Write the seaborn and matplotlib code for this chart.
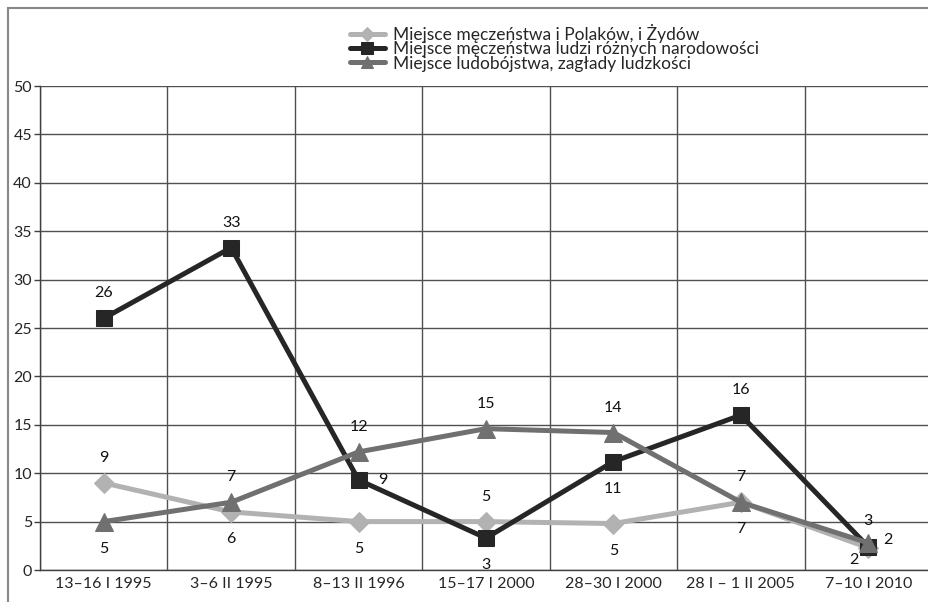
import numpy as np
import pandas as pd
import matplotlib
matplotlib.use('Agg')
import matplotlib.pyplot as plt
import seaborn as sns
from matplotlib.patches import Rectangle

categories = ['13–16 I 1995', '3–6 II 1995', '8–13 II 1996', '15–17 I 2000',
              '28–30 I 2000', '28 I – 1 II 2005', '7–10 I 2010']
series_names = ['Miejsce męczeństwa i Polaków, i Żydów',
                'Miejsce męczeństwa ludzi różnych narodowości',
                'Miejsce ludobójstwa, zagłady ludzkości']
polacy_zydzi = [9, 6, 5, 5, 4.8, 7, 2.3]
rozne_narodowosci = [26, 33.3, 9.3, 3.3, 11.2, 16, 2.4]
ludobojstwo = [5, 7, 12.2, 14.6, 14.2, 7, 2.8]
y_ticks = [0, 5, 10, 15, 20, 25, 30, 35, 40, 45, 50]

# styling per series
colors = ['#b2b2b2', '#262626', '#707070']
markers = ['D', 's', '^']
msizes = [10, 12, 13]
# label placement: offsets in pixels (dx, dy)
A, B, R = (0, 25), (0, -27), (24, 0)
label_pos = [
    [A, B, B, A, B, B, (20, 8)],
    [A, A, R, B, B, A, (-14, -13)],
    [B, A, A, A, A, A, (0, 22)],
]

sns.set_style('white')
plt.rcParams['font.family'] = ['Lato', 'DejaVu Sans']
FS = 11.5

fig = plt.figure(figsize=(9.29, 6.02), dpi=100)
ax = fig.add_axes([40 / 929, 32 / 602, 892 / 929, 484 / 602])

x = np.arange(len(categories))
all_vals = [polacy_zydzi, rozne_narodowosci, ludobojstwo]
for i, vals in enumerate(all_vals):
    df = pd.DataFrame({'x': x, 'y': vals})
    sns.lineplot(data=df, x='x', y='y', ax=ax, color=colors[i], marker=markers[i],
                 markersize=msizes[i], markeredgecolor=colors[i], linewidth=3.6,
                 label=series_names[i], zorder=3 + i)
    for j, v in enumerate(vals):
        dx, dy = label_pos[i][j]
        ax.annotate(f'{v:.0f}', (x[j], v), xytext=(dx * 0.72, dy * 0.72),
                    textcoords='offset points', ha='center', va='center',
                    fontsize=FS, color='#111111', zorder=10)

ax.set_xlim(-0.5, len(categories) - 0.5)
ax.set_ylim(0, 50)
ax.set_yticks(y_ticks)
ax.set_yticklabels([str(t) for t in y_ticks], fontsize=FS)
ax.set_xticks(np.arange(len(categories) + 1) - 0.5)
ax.set_xticklabels([])
ax.set_xticks(x, minor=True)
ax.set_xticklabels(categories, minor=True, fontsize=FS)
ax.tick_params(axis='x', which='major', length=4.3, color='#404040', width=1)
ax.tick_params(axis='x', which='minor', length=0, pad=5)
ax.tick_params(axis='y', length=4.3, color='#404040', width=1, pad=1.5, left=True)
ax.set_xlabel('')
ax.set_ylabel('')
ax.grid(True, which='major', color='#505050', linewidth=1)
ax.set_axisbelow(True)
for s in ['top', 'right']:
    ax.spines[s].set_visible(False)
for s in ['left', 'bottom']:
    ax.spines[s].set_color('#404040')
    ax.spines[s].set_linewidth(1)

ax.legend(loc='upper left', bbox_to_anchor=((350 - 40) / 892, 1 + 62 / 484),
          frameon=False, fontsize=12.5, handlelength=2.0, handletextpad=0.5,
          labelspacing=-0.1, borderpad=0, borderaxespad=0, markerscale=0.7)

fig.patches.append(Rectangle((8 / 929, -0.1), 1.2, 1 - 8 / 602 + 0.1,
                             transform=fig.transFigure, fill=False,
                             edgecolor='#888888', linewidth=1.5))

plt.savefig('out.png', dpi=100)
